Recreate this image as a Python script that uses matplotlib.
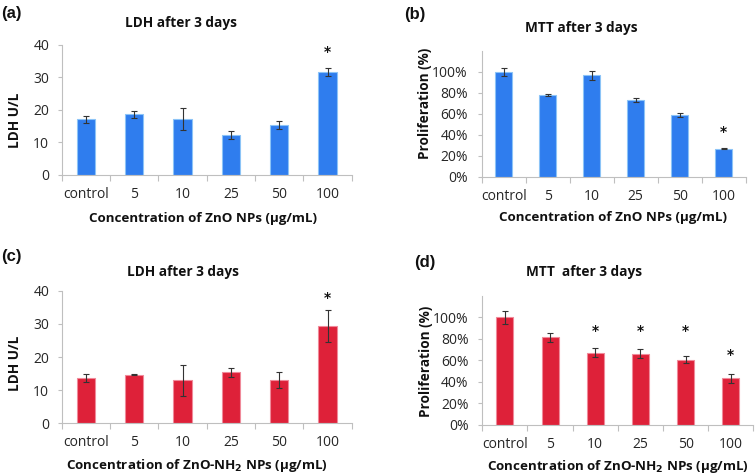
import matplotlib
matplotlib.use("Agg")
import matplotlib.pyplot as plt
import numpy as np
from matplotlib.ticker import FuncFormatter

categories = ["control", "5", "10", "25", "50", "100"]

ldh_zno = [17.1, 18.7, 17.1, 12.2, 15.4, 31.8]
ldh_zno_err = [1.2, 1.1, 3.4, 1.2, 1.3, 1.2]
mtt_zno = [100.0, 78.2, 96.7, 73.1, 59.0, 26.8]
mtt_zno_err = [3.5, 1.2, 4.0, 1.8, 2.0, 0.5]
ldh_nh2 = [13.8, 14.7, 13.0, 15.4, 13.0, 29.4]
ldh_nh2_err = [1.2, 0.1, 4.7, 1.4, 2.4, 4.8]
mtt_nh2 = [100.0, 81.4, 67.1, 66.2, 60.6, 43.2]
mtt_nh2_err = [6.0, 4.0, 4.0, 4.0, 3.5, 4.0]

# significance stars: (category index, y position)
stars_a = [(5, 37.7)]
stars_b = [(5, 43.0)]
stars_c = [(5, 37.9)]
stars_d = [(2, 87.6), (3, 87.6), (4, 87.6), (5, 65.0)]

BLUE = "#2F7DEE"
BLUE_EDGE = "#8CC4F7"
RED = "#DE2139"
RED_EDGE = "#F08A9A"
AX_COL = "#BFBFBF"
TXT = "#262626"

plt.rcParams["font.family"] = ["Open Sans", "DejaVu Sans"]

fig = plt.figure(figsize=(7.56, 4.75), dpi=100)


def make_panel(rect, values, errs, color, edge, ylim, yticks, pct, stars, ypad):
    ax = fig.add_axes(rect)
    x = np.arange(len(categories))
    ax.bar(x, values, width=0.38, color=color, edgecolor=edge, linewidth=0.8, zorder=2)
    ax.errorbar(x, values, yerr=errs, fmt="none", ecolor="#333333", elinewidth=0.8,
                capsize=2.2, capthick=0.8, zorder=3)
    ax.set_xlim(-0.5, len(categories) - 0.5)
    ax.set_ylim(*ylim)
    ax.set_yticks(yticks)
    if pct:
        ax.yaxis.set_major_formatter(FuncFormatter(lambda v, p: f"{int(round(v))}%"))
    ax.set_xticks(x)
    ax.set_xticklabels(categories)
    ax.set_xticks(np.arange(-0.5, len(categories)), minor=True)
    ax.tick_params(axis="x", which="major", length=0, pad=8.5, labelsize=10, labelcolor=TXT)
    ax.tick_params(axis="x", which="minor", length=4, width=0.8, color=AX_COL)
    ax.tick_params(axis="y", which="major", length=3, width=0.8, color=AX_COL, pad=ypad,
                   labelsize=10, labelcolor=TXT)
    for s in ["top", "right"]:
        ax.spines[s].set_visible(False)
    for s in ["left", "bottom"]:
        ax.spines[s].set_color(AX_COL)
        ax.spines[s].set_linewidth(0.8)
    for (i, yv) in stars:
        ax.text(i, yv, "*", ha="center", va="center", fontsize=10, fontweight="bold",
                color="#111111", family="DejaVu Sans")
    return ax


make_panel([0.0816, 0.6316, 0.3836, 0.2737], ldh_zno, ldh_zno_err, BLUE, BLUE_EDGE,
           (0, 40), [0, 10, 20, 30, 40], False, stars_a, 6)
make_panel([0.6372, 0.628, 0.3492, 0.2646], mtt_zno, mtt_zno_err, BLUE, BLUE_EDGE,
           (0, 120), [0, 20, 40, 60, 80, 100], True, stars_b, 7)
make_panel([0.0816, 0.1088, 0.3836, 0.2792], ldh_nh2, ldh_nh2_err, RED, RED_EDGE,
           (0, 40), [0, 10, 20, 30, 40], False, stars_c, 6)
make_panel([0.638, 0.1053, 0.3585, 0.2722], mtt_nh2, mtt_nh2_err, RED, RED_EDGE,
           (0, 120), [0, 20, 40, 60, 80, 100], True, stars_d, 7)

bold = dict(fontweight="bold", color="#111111")
# panel letters
for (px, py, t) in [(0.002, 0.972, "(a)"), (0.535, 0.970, "(b)"),
                    (0.002, 0.461, "(c)"), (0.548, 0.448, "(d)")]:
    fig.text(px, py, t, ha="left", va="center", fontsize=12, family="Liberation Sans", **bold)

TS = 9.8
# titles
fig.text(0.240, 0.952, "LDH after 3 days", ha="center", va="center", fontsize=TS, **bold)
fig.text(0.7685, 0.941, "MTT after 3 days", ha="center", va="center", fontsize=TS, **bold)
fig.text(0.242, 0.427, "LDH after 3 days", ha="center", va="center", fontsize=TS, **bold)
fig.text(0.7725, 0.427, "MTT  after 3 days", ha="center", va="center", fontsize=TS, **bold)

# y labels
fig.text(0.0198, 0.747, "LDH U/L", rotation=90, ha="center", va="center", fontsize=TS, **bold)
fig.text(0.562, 0.782, "Proliferation (%)", rotation=90, ha="center", va="center", fontsize=TS, **bold)
fig.text(0.0198, 0.236, "LDH U/L", rotation=90, ha="center", va="center", fontsize=TS, **bold)
fig.text(0.563, 0.240, "Proliferation (%)", rotation=90, ha="center", va="center", fontsize=TS, **bold)

# x labels
XS = 9.6
fig.text(0.269, 0.541, "Concentration of ZnO NPs (\u03bcg/mL)", ha="center", va="center", fontsize=XS, **bold)
fig.text(0.811, 0.543, "Concentration of ZnO NPs (\u03bcg/mL)", ha="center", va="center", fontsize=XS, **bold)
fig.text(0.260, 0.021, "Concentration of ZnO-NH$_\\mathbf{2}$ NPs (\u03bcg/mL)", ha="center", va="center", fontsize=XS, **bold)
fig.text(0.817, 0.017, "Concentration of ZnO-NH$_\\mathbf{2}$ NPs (\u03bcg/mL)", ha="center", va="center", fontsize=XS, **bold)

fig.savefig("out.png", dpi=100, facecolor="white")
